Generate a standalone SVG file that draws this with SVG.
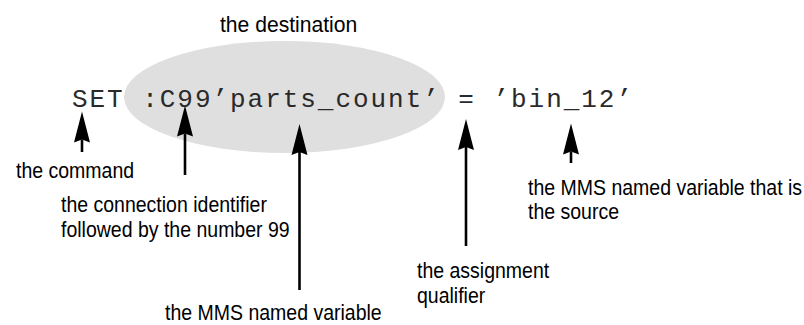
<svg xmlns="http://www.w3.org/2000/svg" width="804" height="325" viewBox="0 0 804 325">
<style>
.lbl{font-family:"Liberation Sans",Arial,sans-serif;font-size:21.5px;fill:#000}
.title{font-family:"Liberation Sans",Arial,sans-serif;font-size:22px;fill:#000}
.code{font-family:"Liberation Mono","Courier New",monospace;font-size:26px;fill:#2a2a2a}
.arr{stroke:#000;stroke-width:2.6;fill:none;marker-end:url(#head)}
</style>
<defs>
<marker id="head" markerUnits="userSpaceOnUse" viewBox="0 -8.5 32 17" markerWidth="32" markerHeight="17" refX="3" refY="0" orient="auto">
<path d="M0,-8 L31,0 L0,8 L3,0 Z" fill="#000"/>
</marker>
</defs>
<g id="destination">
<ellipse cx="284.5" cy="97" rx="160.5" ry="56" fill="#dfdfdf"/>
<text class="title" transform="translate(220,32) scale(0.96,1)">the destination</text>
</g>
<g id="code">
<text class="code" x="72" y="107" textLength="560" lengthAdjust="spacing" xml:space="preserve">SET :C99’parts_count’ = ’bin_12’</text>
</g>
<g id="command"><text class="lbl" transform="translate(16,178) scale(0.907,1)">the command</text></g>
<g id="connection" transform="translate(61,212) scale(0.907,1)"><text class="lbl" x="0" y="0">the connection identifier</text><text class="lbl" x="0" y="25.5">followed by the number 99</text></g>
<g id="mms"><text class="lbl" transform="translate(165,320) scale(0.907,1)">the MMS named variable</text></g>
<g id="assignment" transform="translate(417,278) scale(0.907,1)"><text class="lbl" x="0" y="0">the assignment</text><text class="lbl" x="0" y="25">qualifier</text></g>
<g id="source" transform="translate(528,195) scale(0.907,1)"><text class="lbl" x="0" y="0">the MMS named variable that is</text><text class="lbl" x="0" y="24.5">the source</text></g>
<g id="connectors">
<line class="arr" x1="82" y1="152" x2="82" y2="139.5"/>
<line class="arr" x1="185" y1="175" x2="185" y2="133.5"/>
<line class="arr" x1="299.5" y1="290" x2="299.5" y2="152"/>
<line class="arr" x1="466" y1="246" x2="466" y2="147"/>
<line class="arr" x1="571" y1="163" x2="571" y2="151.5"/>
</g>
</svg>
